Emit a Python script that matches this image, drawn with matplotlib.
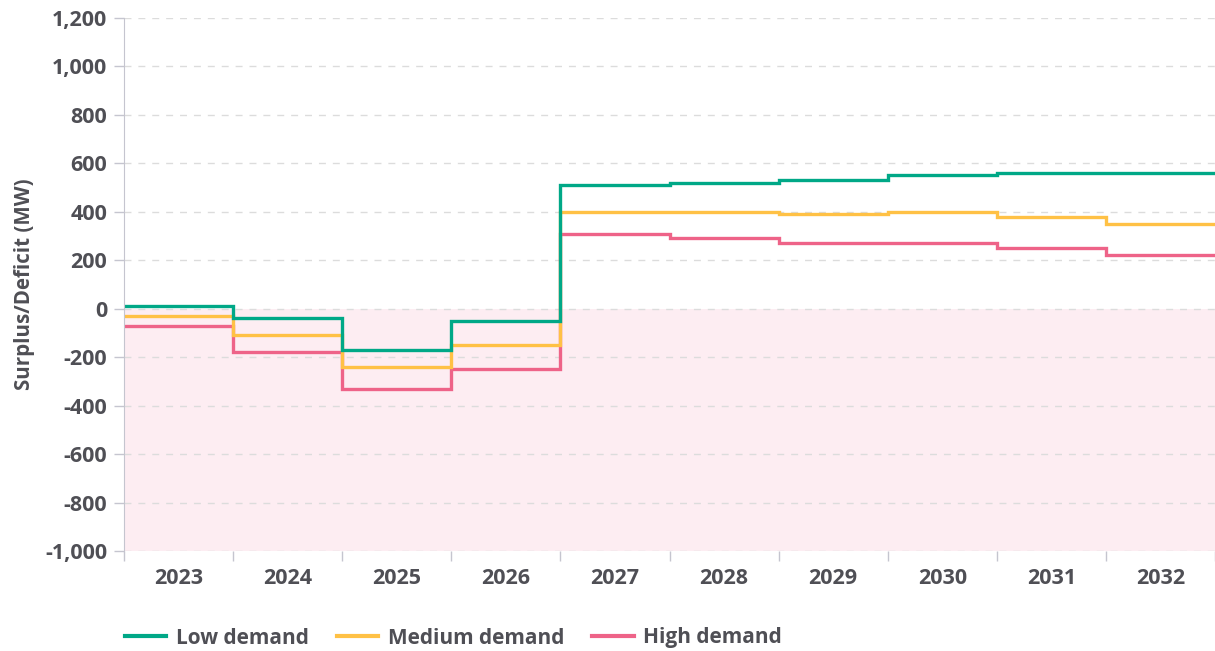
import numpy as np
import matplotlib.pyplot as plt
from matplotlib.lines import Line2D
from matplotlib.ticker import FuncFormatter

# Capacity surplus / deficit by demand scenario
years = ['2023', '2024', '2025', '2026', '2027', '2028', '2029', '2030', '2031', '2032']
low = [10, -40, -170, -50, 510, 520, 530, 550, 560, 560]
medium = [-30, -110, -240, -150, 400, 400, 390, 400, 380, 350]
high = [-70, -180, -330, -250, 310, 290, 270, 270, 250, 220]

green = '#00a887'
yellow = '#ffc145'
pink = '#ee6388'
textc = '#4f4f55'
axisc = '#c5c5cf'

plt.rcParams['font.family'] = ['Open Sans', 'DejaVu Sans']
plt.rcParams['font.weight'] = 'bold'

fig = plt.figure(figsize=(12.15, 6.51), dpi=100)
ax = fig.add_axes([124/1215, 1 - 551/651, 1 - 124/1215, (551 - 18)/651])

edges = np.arange(len(years) + 1)
ax.axhspan(-1000, 0, color='#fdedf2', zorder=0, lw=0)
for y in np.arange(-1000, 1201, 200):
    ax.axhline(y, color='#dcdcdc', lw=1, ls=(0, (5, 5)), zorder=1)

ax.stairs(low, edges, color=green, lw=2.4, label='Low demand', zorder=5, baseline=None)
ax.stairs(medium, edges, color=yellow, lw=2.4, label='Medium demand', zorder=4, baseline=None)
ax.stairs(high, edges, color=pink, lw=2.4, label='High demand', zorder=3, baseline=None)

ax.set_xlim(0, len(years))
ax.set_ylim(-1000, 1200)
ax.set_yticks(np.arange(-1000, 1201, 200))
ax.yaxis.set_major_formatter(FuncFormatter(lambda v, p: f'{int(v):,}'))

ax.set_xticks(edges)
ax.set_xticklabels([])
ax.set_xticks(edges[:-1] + 0.5, minor=True)
ax.set_xticklabels(years, minor=True)
ax.tick_params(axis='x', which='major', length=7, color=axisc, width=1)
ax.tick_params(axis='x', which='minor', length=0, pad=12, labelsize=15.5, labelcolor=textc)
ax.tick_params(axis='y', length=7, color=axisc, width=1, pad=5, labelsize=15.5, labelcolor=textc)

for s in ['top', 'right', 'bottom']:
    ax.spines[s].set_visible(False)
ax.spines['left'].set_color(axisc)
ax.spines['left'].set_zorder(6)

ax.set_ylabel('Surplus/Deficit (MW)', fontsize=14.8, fontweight='bold', color=textc, labelpad=7)

labels = ['Low demand', 'Medium demand', 'High demand']
handles = [Line2D([], [], color=c, lw=3) for c in (green, yellow, pink)]
leg = fig.legend(handles, labels, loc='center left', bbox_to_anchor=(106/1215, 1 - 638/651),
                 ncol=3, frameon=False, prop={'size': 15, 'weight': 'bold'},
                 handlelength=2.0, handletextpad=0.45, columnspacing=1.35)
for t in leg.get_texts():
    t.set_color(textc)

fig.savefig('out.png', dpi=100)
